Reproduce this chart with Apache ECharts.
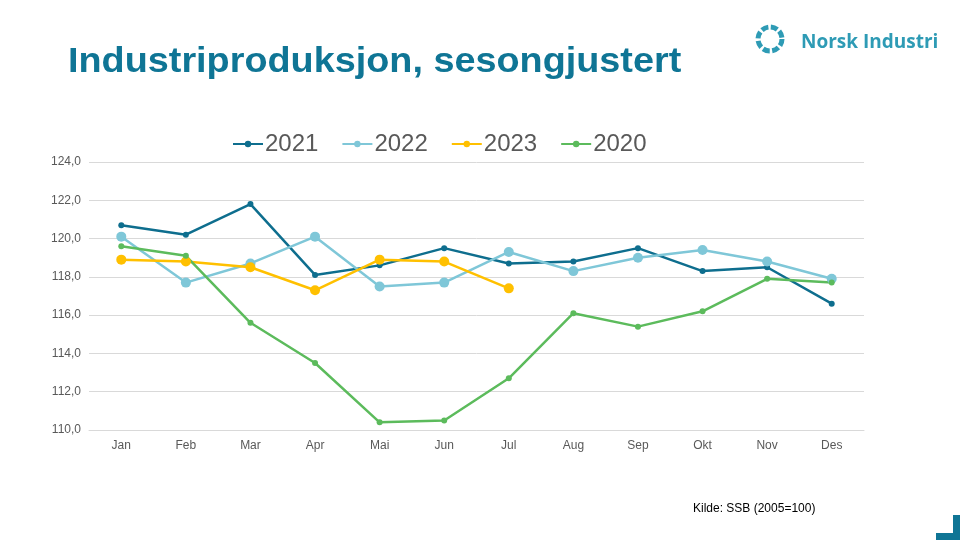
<!DOCTYPE html>
<html>

<head>
    <meta charset="utf-8">
    <title>Industriproduksjon</title>
    <script src="https://cdn.jsdelivr.net/npm/echarts@6/dist/echarts.min.js"></script>
</head>

<body style="margin:0;background:#fff;">
    <div id="main" style="width: 960px;height:540px;"></div>
    <script type="text/javascript">
        var months = ['Jan', 'Feb', 'Mar', 'Apr', 'Mai', 'Jun', 'Jul', 'Aug', 'Sep', 'Okt', 'Nov', 'Des'];
        var y2021 = [120.7, 120.2, 121.8, 118.1, 118.6, 119.5, 118.7, 118.8, 119.5, 118.3, 118.5, 116.6];
        var y2022 = [120.1, 117.7, 118.7, 120.1, 117.5, 117.7, 119.3, 118.3, 119.0, 119.4, 118.8, 117.9];
        var y2023 = [118.9, 118.8, 118.5, 117.3, 118.9, 118.8, 117.4];
        var y2020 = [119.6, 119.1, 115.6, 113.5, 110.4, 110.5, 112.7, 116.1, 115.4, 116.2, 117.9, 117.7];

        var dom = document.getElementById("main");
        var myChart = echarts.init(dom);

        // liten serie-hjelper
        function line(name, data, color, size) {
            return {
                name: name,
                type: 'line',
                data: data,
                symbol: 'circle',
                symbolSize: size,
                itemStyle: { color: color },
                lineStyle: { color: color, width: 2.5 },
                emphasis: { disabled: true }
            };
        }

        var option = {
            animation: false,
            legend: {
                top: 127,
                left: 227,
                itemGap: 23,
                itemWidth: 30,
                itemHeight: 8,
                textStyle: { fontFamily: 'Liberation Sans', fontSize: 24, color: '#595959', padding: [0, 0, 0, -3] },
                data: ['2021', '2022', '2023', '2020']
            },
            grid: { left: 89, right: 96, top: 162, bottom: 110 },
            xAxis: {
                type: 'category',
                data: months,
                axisLine: { lineStyle: { color: '#D9D9D9' } },
                axisTick: { show: false },
                axisLabel: { fontFamily: 'Liberation Sans', fontSize: 12, color: '#595959', margin: 10 }
            },
            yAxis: {
                type: 'value',
                min: 110,
                max: 124,
                interval: 2,
                axisLine: { show: false },
                axisTick: { show: false },
                splitLine: { lineStyle: { color: '#D9D9D9' } },
                axisLabel: {
                    fontFamily: 'Liberation Sans', fontSize: 12, color: '#595959', margin: 8,
                    formatter: function (v) { return v.toFixed(1).replace('.', ','); }
                }
            },
            series: [
                line('2021', y2021, '#0E6E8E', 6),
                line('2022', y2022, '#7FC7D8', 10),
                line('2023', y2023, '#FFC000', 10),
                line('2020', y2020, '#5CBB5C', 6)
            ],
            graphic: [
                // tittel
                {
                    type: 'text', x: 68, y: 45, scaleX: 1.08,
                    style: { text: 'Industriproduksjon, sesongjustert', font: 'bold 35px "Liberation Sans"', fill: '#0F7595' }
                },
                // logo
                {
                    type: 'circle', shape: { cx: 770, cy: 39, r: 12 },
                    style: { fill: 'none', stroke: '#2E9BB5', lineWidth: 5, lineDash: [7, 2.5] }
                },
                {
                    type: 'text', left: 801, top: 33,
                    style: { text: 'Norsk Industri', font: 'bold 19px "Open Sans"', fill: '#2E9BB5' }
                },
                {
                    type: 'text', left: 693, top: 503,
                    style: { text: 'Kilde: SSB (2005=100)', font: '12px "Liberation Sans"', fill: '#000' }
                },
                // hjørne
                { type: 'rect', shape: { x: 953, y: 515, width: 7, height: 25 }, style: { fill: '#0F7595' } },
                { type: 'rect', shape: { x: 936, y: 533, width: 24, height: 7 }, style: { fill: '#0F7595' } }
            ]
        };
        myChart.setOption(option);
    </script>
</body>

</html>
